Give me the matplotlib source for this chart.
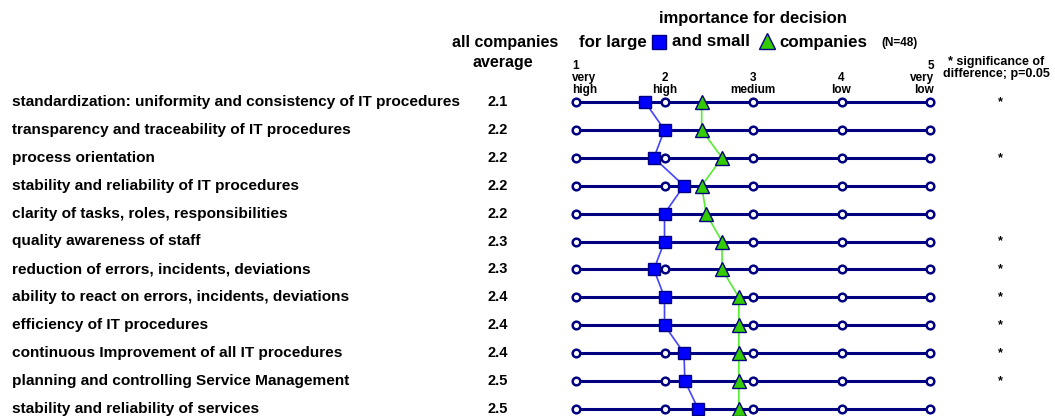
import matplotlib
matplotlib.use("Agg")
import matplotlib.pyplot as plt
from matplotlib.lines import Line2D

categories = [
    "standardization: uniformity and consistency of IT procedures",
    "transparency and traceability of IT procedures",
    "process orientation",
    "stability and reliability of IT procedures",
    "clarity of tasks, roles, responsibilities",
    "quality awareness of staff",
    "reduction of errors, incidents, deviations",
    "ability to react on errors, incidents, deviations",
    "efficiency of IT procedures",
    "continuous Improvement of all IT procedures",
    "planning and controlling Service Management",
    "stability and reliability of services",
]
all_avg = ["2.1", "2.2", "2.2", "2.2", "2.2", "2.3", "2.3", "2.4", "2.4", "2.4", "2.5", "2.5"]
large = [1.78, 2.0, 1.88, 2.22, 2.0, 2.0, 1.88, 2.0, 2.0, 2.22, 2.23, 2.38]
small = [2.42, 2.42, 2.65, 2.42, 2.47, 2.65, 2.65, 2.84, 2.84, 2.84, 2.84, 2.84]
significant = [True, False, True, False, False, True, True, True, True, True, True, False]
scale_ticks = [1, 2, 3, 4, 5]
scale_labels = ["1\nvery\nhigh", "2\nhigh", "3\nmedium", "4\nlow", "5\nvery\nlow"]

W, H = 1055, 416
fig = plt.figure(figsize=(W / 100, H / 100), dpi=100)
plt.rcParams['font.family'] = ['Liberation Sans', 'DejaVu Sans']

# axes over whole figure; data x = scale value, y = row index
ax = fig.add_axes([0, 0, 1, 1])
px_per_unit = 88.5
x1_px = 576
row0_px = 102
row_step = 27.9
ax.set_xlim(1 - x1_px / px_per_unit, 1 + (W - x1_px) / px_per_unit)
ax.set_ylim((H - row0_px) / row_step, -row0_px / row_step)
ax.axis('off')

navy = '#000080'
n = len(categories)
rows = list(range(n))
for i in rows:
    ax.plot([scale_ticks[0], scale_ticks[-1]], [i, i], color=navy, lw=2.2, zorder=1,
            solid_capstyle='butt')
    ax.plot(scale_ticks, [i] * len(scale_ticks), 'o', ms=5.5, mfc='white', mec=navy,
            mew=1.8, zorder=2)

ax.plot(large, rows, color='#4444ff', lw=1.2, zorder=3)
ax.plot(small, rows, color='#55ee33', lw=1.2, zorder=3)
ax.plot(large, rows, 's', ms=9, mfc='#0000ff', mec=navy, mew=1, zorder=4)
ax.plot(small, rows, '^', ms=10, mfc='#33cc00', mec=navy, mew=1, zorder=4)

def fx(px):
    return px / W

def fy(py):
    return 1 - py / H

bold = dict(fontweight='bold', color='black')
for i, (c, a, s) in enumerate(zip(categories, all_avg, significant)):
    y = row0_px + i * row_step
    fig.text(fx(12), fy(y), c, fontsize=11.1, ha='left', va='center', **bold)
    fig.text(fx(498), fy(y), a, fontsize=10.5, ha='center', va='center', **bold)
    if s:
        fig.text(fx(1000), fy(y), "*", fontsize=9, ha='center', va='center', **bold)

fig.text(fx(505), fy(42), "all companies", fontsize=11.5, ha='center', va='center', **bold)
fig.text(fx(503), fy(62), "average", fontsize=11.5, ha='center', va='center', **bold)

fig.text(fx(753), fy(18), "importance for decision", fontsize=12, ha='center', va='center', **bold)
fig.text(fx(647), fy(42), "for large", fontsize=12.2, ha='right', va='center', **bold)
fig.text(fx(672), fy(42), "and small", fontsize=12.2, ha='left', va='center', **bold)
fig.text(fx(779), fy(42), "companies", fontsize=12.2, ha='left', va='center', **bold)
fig.text(fx(881), fy(43), "(N=48)", fontsize=8.5, ha='left', va='center', **bold)
fig.add_artist(Line2D([fx(659)], [fy(42)], marker='s', ms=10, mfc='#0000ff', mec=navy,
                      mew=1, transform=fig.transFigure))
fig.add_artist(Line2D([fx(767)], [fy(41)], marker='^', ms=11, mfc='#33cc00', mec=navy,
                      mew=1, transform=fig.transFigure))

for t, lab in zip(scale_ticks, scale_labels):
    if t == 1:
        ha = 'left'
        xp = x1_px - 4
    elif t == 5:
        ha = 'right'
        xp = x1_px + (t - 1) * px_per_unit + 4
    else:
        ha = 'center'
        xp = x1_px + (t - 1) * px_per_unit
    fig.text(fx(xp), fy(96), lab, fontsize=8.5, ha=ha, va='bottom', linespacing=1.0,
             **bold)

fig.text(fx(996), fy(68), "* significance of\ndifference; p=0.05", fontsize=9,
         ha='center', va='center', linespacing=0.9, **bold)

fig.savefig("out.png", dpi=100)
